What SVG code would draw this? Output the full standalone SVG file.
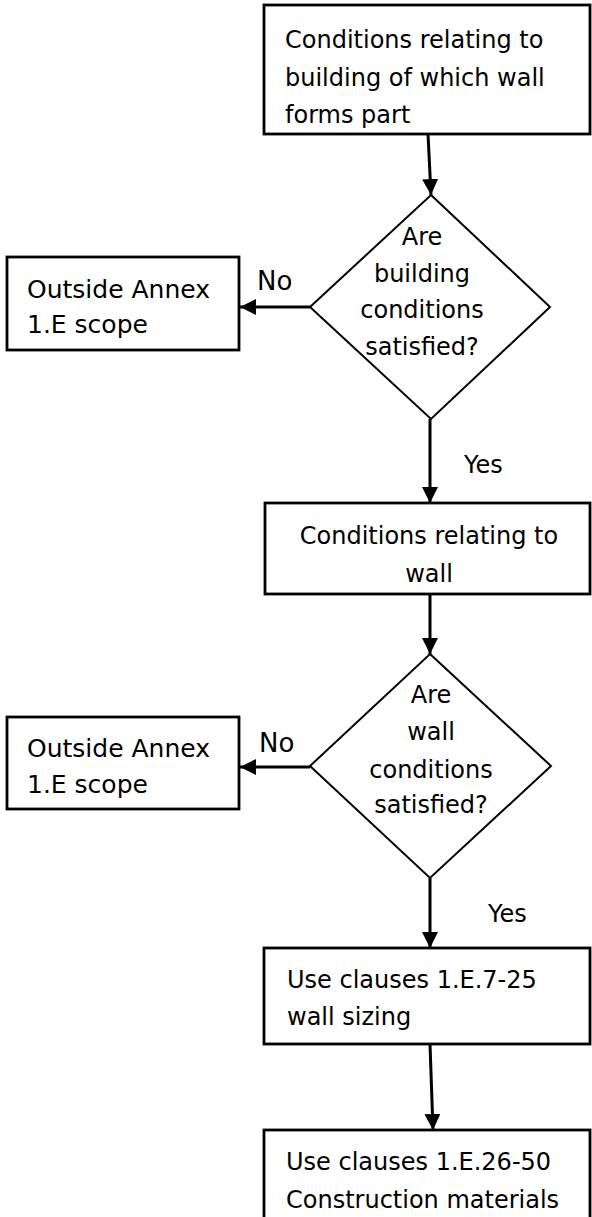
<svg xmlns="http://www.w3.org/2000/svg" width="592" height="1217" viewBox="0 0 592 1217">
<style>
  .box { fill: #ffffff; stroke: #000000; stroke-width: 2.8; }
  .dia { fill: #ffffff; stroke: #000000; stroke-width: 2; }
  .t { font-family: "DejaVu Sans", "Liberation Sans", sans-serif; font-size: 24px; fill: #000000; }
  .big { font-size: 25px; }
  .lbl { font-size: 26px; }
  .c { text-anchor: middle; }
  .edge { stroke: #000000; stroke-width: 3; fill: none; marker-end: url(#arr); }
</style>
<defs>
  <marker id="arr" markerUnits="userSpaceOnUse" markerWidth="17" markerHeight="17" refX="16" refY="8" orient="auto">
    <path d="M0,0 L16,8 L0,16 z" fill="#000000"/>
  </marker>
</defs>
<rect width="592" height="1217" fill="#ffffff"/>

<g id="connectors">
  <line class="edge" x1="428" y1="134" x2="431" y2="195"/>
  <line class="edge" x1="430" y1="419" x2="430" y2="503"/>
  <line class="edge" x1="430" y1="594" x2="430" y2="654"/>
  <line class="edge" x1="430" y1="878" x2="430" y2="948"/>
  <line class="edge" x1="430" y1="1044" x2="433" y2="1130"/>
  <line class="edge" x1="310" y1="307" x2="240" y2="307"/>
  <line class="edge" x1="310" y1="767" x2="240" y2="767"/>
  <text class="t lbl" x="257" y="290">No</text>
  <text class="t lbl" x="259" y="752">No</text>
  <text class="t" x="464" y="473">Yes</text>
  <text class="t" x="488" y="922">Yes</text>
</g>

<g id="n-building">
  <rect class="box" x="264" y="5" width="326" height="129"/>
  <text class="t" x="285" y="48">Conditions relating to</text>
  <text class="t" x="285" y="86">building of which wall</text>
  <text class="t" x="285" y="123">forms part</text>
</g>

<g id="d-building">
  <polygon class="dia" points="431,195 550,307 431,419 310,307"/>
  <text class="t c" x="422" y="245">Are</text>
  <text class="t c" x="422" y="282">building</text>
  <text class="t c" x="422" y="318">conditions</text>
  <text class="t c" x="422" y="355">satisfied?</text>
</g>

<g id="n-outside1">
  <rect class="box" x="7" y="257" width="232" height="93"/>
  <text class="t big" x="27" y="298">Outside Annex</text>
  <text class="t big" x="27" y="333">1.E scope</text>
</g>

<g id="n-wall">
  <rect class="box" x="265" y="503" width="325" height="91"/>
  <text class="t c" x="429" y="544">Conditions relating to</text>
  <text class="t c" x="429" y="582">wall</text>
</g>

<g id="d-wall">
  <polygon class="dia" points="430,654 551,766 430,878 310,766"/>
  <text class="t c" x="431" y="703">Are</text>
  <text class="t c" x="431" y="740">wall</text>
  <text class="t c" x="431" y="778">conditions</text>
  <text class="t c" x="431" y="813">satisfied?</text>
</g>

<g id="n-outside2">
  <rect class="box" x="7" y="717" width="232" height="92"/>
  <text class="t big" x="27" y="757">Outside Annex</text>
  <text class="t big" x="27" y="793">1.E scope</text>
</g>

<g id="n-sizing">
  <rect class="box" x="264" y="948" width="326" height="96"/>
  <text class="t" x="287" y="988">Use clauses 1.E.7-25</text>
  <text class="t" x="287" y="1025">wall sizing</text>
</g>

<g id="n-materials">
  <rect class="box" x="264" y="1130" width="326" height="95"/>
  <text class="t" x="286" y="1170">Use clauses 1.E.26-50</text>
  <text class="t" x="286" y="1208">Construction materials</text>
</g>
</svg>
